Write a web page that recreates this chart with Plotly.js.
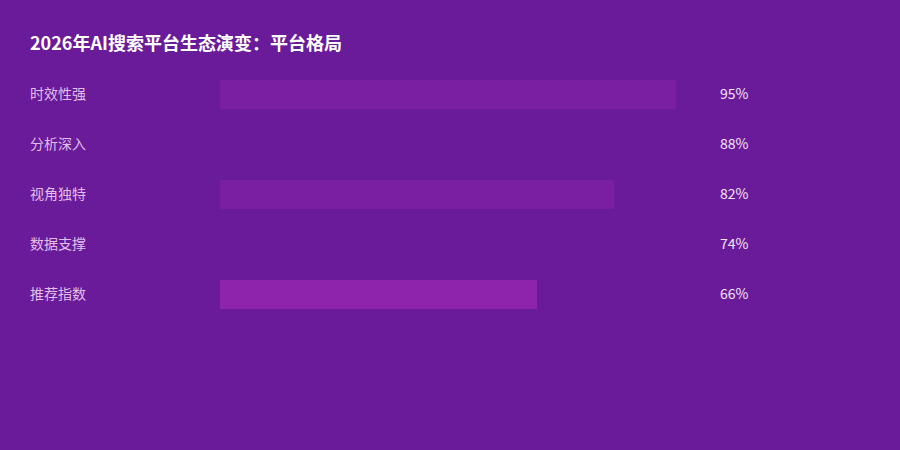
<!DOCTYPE html>
<html>
<head>
<meta charset="utf-8">
<script src="https://cdn.plot.ly/plotly-3.0.1.min.js"></script>
<style>
  html, body { margin: 0; padding: 0; background: #6a1b9a; }
  #chart { width: 900px; height: 450px; }
</style>
</head>
<body>
<div id="chart"></div>
<script>
const categories = ["时效性强", "分析深入", "视角独特", "数据支撑", "推荐指数"];
const values = [95, 88, 82, 74, 66];
const barColors = ["#7b1fa2", "#6a1b9a", "#7b1fa2", "#6a1b9a", "#8e24aa"];
const valueLabels = values.map(v => `${v}%`);

const FONT = '"Noto Sans CJK SC", "Noto Sans", sans-serif';
const plotW = 480; // px width of plot area (0..100)

const barTrace = {
  type: "bar",
  orientation: "h",
  x: values,
  y: categories,
  width: 0.58,
  marker: { color: barColors, line: { width: 0 } },
  hoverinfo: "skip",
};

// annotations carry 2px of pad (borderpad + borderwidth), so nudge left by 2
const labelNotes = categories.map(c => ({
  xref: "paper", yref: "y",
  x: -192 / plotW, y: c,
  xanchor: "left", yanchor: "middle",
  yshift: 1,
  text: c, showarrow: false,
  font: { family: FONT, size: 14, color: "#e1bee7" },
}));

const valueNotes = categories.map((c, i) => ({
  xref: "paper", yref: "y",
  x: 498 / plotW, y: c,
  xanchor: "left", yanchor: "middle",
  yshift: 1,
  text: valueLabels[i], showarrow: false,
  font: { family: FONT, size: 14, color: "#f3e5f5" },
}));

const layout = {
  width: 900,
  height: 450,
  paper_bgcolor: "#6a1b9a",
  plot_bgcolor: "#6a1b9a",
  margin: { l: 220, r: 200, t: 69, b: 131 },
  title: {
    text: "<b>2026年AI搜索平台生态演变：平台格局</b>",
    x: 30 / 900, xanchor: "left",
    y: 1 - 44 / 450, yanchor: "middle",
    font: { family: FONT, size: 18, color: "#ffffff" },
  },
  xaxis: {
    range: [0, 100],
    visible: false,
    fixedrange: true,
  },
  yaxis: {
    type: "category",
    range: [4.5, -0.5],
    visible: false,
    fixedrange: true,
  },
  showlegend: false,
  bargap: 0,
  annotations: [...labelNotes, ...valueNotes],
};

Plotly.newPlot("chart", [barTrace], layout, { displayModeBar: false, staticPlot: true });
</script>
</body>
</html>
